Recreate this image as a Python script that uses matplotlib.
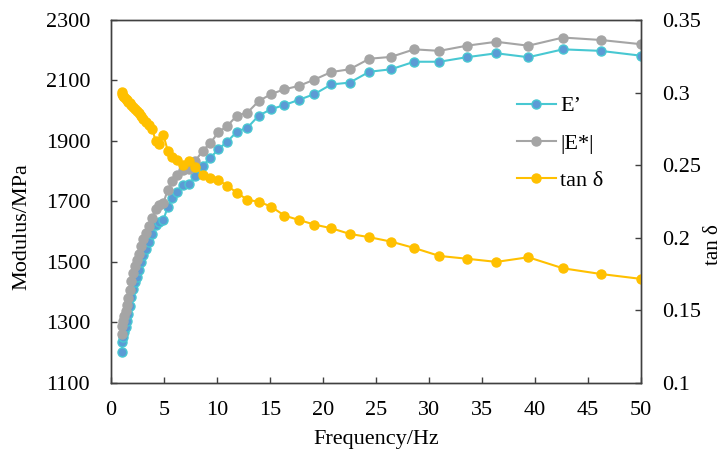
import matplotlib
matplotlib.use('Agg')
import matplotlib.pyplot as plt
from matplotlib.ticker import FuncFormatter

plt.rcParams['font.family'] = ['Liberation Serif', 'DejaVu Serif']
plt.rcParams['font.size'] = 16

# Frecuencias (Hz)
freq = [1.00, 1.08, 1.17, 1.27, 1.38, 1.49, 1.61, 1.75, 1.89, 2.05,
        2.22, 2.41, 2.61, 2.82, 3.06, 3.31, 3.59, 3.89, 4.21, 4.56,
        4.94, 5.35, 5.79, 6.27, 6.80, 7.36, 7.97, 8.64, 9.35, 10.13,
        10.97, 11.88, 12.87, 13.94, 15.10, 16.36, 17.72, 19.19, 20.78, 22.51,
        24.38, 26.41, 28.60, 30.98, 33.56, 36.35, 39.37, 42.64, 46.18, 50.00]

# Módulo de almacenamiento E' (MPa)
e_storage = [1203, 1236, 1252, 1269, 1285, 1305, 1328, 1355, 1384, 1411,
             1434, 1450, 1474, 1500, 1523, 1543, 1566, 1593, 1622, 1632,
             1639, 1682, 1712, 1731, 1755, 1758, 1784, 1818, 1843, 1873,
             1898, 1931, 1944, 1984, 2005, 2019, 2036, 2055, 2087, 2093,
             2129, 2137, 2162, 2162, 2177, 2190, 2177, 2203, 2198, 2182]

# Módulo complejo |E*| (MPa)
e_complex = [1262, 1288, 1305, 1321, 1338, 1358, 1381, 1407, 1437, 1464,
             1487, 1507, 1526, 1553, 1576, 1596, 1619, 1645, 1675, 1688,
             1695, 1738, 1768, 1788, 1804, 1807, 1834, 1868, 1892, 1929,
             1950, 1984, 1994, 2032, 2055, 2071, 2082, 2103, 2128, 2137,
             2172, 2178, 2203, 2198, 2215, 2228, 2215, 2242, 2234, 2220]

# Factor de pérdida tan δ
tan_delta = [0.3007, 0.2990, 0.2979, 0.2969, 0.2959, 0.2948, 0.2938, 0.2928, 0.2917, 0.2903,
             0.2890, 0.2876, 0.2859, 0.2841, 0.2821, 0.2800, 0.2779, 0.2752, 0.2666, 0.2648,
             0.2710, 0.2600, 0.2559, 0.2535, 0.2504, 0.2531, 0.2490, 0.2433, 0.2410, 0.2399,
             0.2357, 0.2311, 0.2261, 0.2249, 0.2215, 0.2153, 0.2123, 0.2091, 0.2066, 0.2027,
             0.2004, 0.1974, 0.1930, 0.1875, 0.1856, 0.1834, 0.1866, 0.1790, 0.1751, 0.1717]

spine_color = '#404040'

fig = plt.figure(figsize=(7.27, 4.57), dpi=100)
ax = fig.add_axes([111 / 727, 1 - 383 / 457, 530 / 727, 363 / 457])
ax2 = ax.twinx()

l1, = ax.plot(freq, e_storage, '-o', color='#48C8D2', lw=1.5, ms=6.5,
              mfc='#5B9BD5', mec='#48C8D2', mew=1.0, label='E’')
l2, = ax.plot(freq, e_complex, '-o', color='#A5A5A5', lw=1.5, ms=6.5,
              mfc='#A5A5A5', mec='#A5A5A5', label='|E*|')
l3, = ax2.plot(freq, tan_delta, '-o', color='#FFC000', lw=1.5, ms=6.5,
               mfc='#FFC000', mec='#FFC000', label='tan δ')

ax.set_xlim(0, 50)
ax.set_ylim(1100, 2300)
ax2.set_ylim(0.1, 0.35)
ax.set_xticks(range(0, 51, 5))
ax.set_yticks(range(1100, 2301, 200))
ax2.set_yticks([0.1, 0.15, 0.2, 0.25, 0.3, 0.35])
ax2.yaxis.set_major_formatter(FuncFormatter(lambda v, p: ('%.2f' % v).rstrip('0')))

for a in (ax, ax2):
    for s in a.spines.values():
        s.set_color(spine_color)
        s.set_linewidth(1.0)
    a.tick_params(direction='in', length=4, width=1, color=spine_color, labelsize=16)
ax.tick_params(axis='x', pad=13)
ax.tick_params(axis='y', pad=15)
ax2.tick_params(axis='y', pad=15)

ax.set_xlabel('Frequency/Hz', fontsize=16, va='center', ha='center')
ax.set_ylabel('Modulus/MPa', fontsize=16, va='center', ha='center')
ax2.set_ylabel('tan δ', fontsize=15, va='center', ha='center')
ax.xaxis.set_label_coords(0.5, -0.155)
ax.yaxis.set_label_coords(-0.168, 0.43)
ax2.yaxis.set_label_coords(1.137, 0.38)

ax2.legend(handles=[l1, l2, l3], loc='center left', bbox_to_anchor=(0.766, 0.66),
           frameon=False, borderpad=0, borderaxespad=0, handlelength=1.75,
           handletextpad=0.2, labelspacing=0.75, fontsize=16)

fig.savefig('out.png', dpi=100)
